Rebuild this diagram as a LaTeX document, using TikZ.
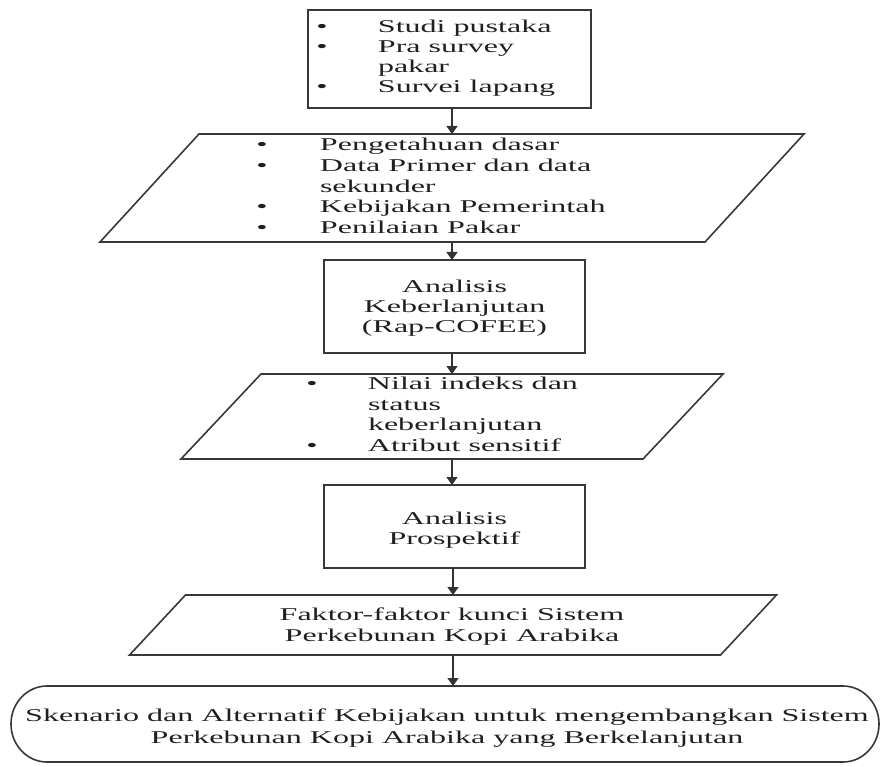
\documentclass[tikz,border=0pt]{standalone}
\usepackage{fontspec}
\setmainfont{Liberation Serif}[FakeStretch=1.78]
\usetikzlibrary{arrows.meta,calc}
\begin{document}
\begin{tikzpicture}[x={(1pt,0)},y={(0,-1pt)},
  outline/.style={draw=black!78,line width=1.6pt},
  arr/.style={draw=black!80,line width=1.6pt,-{Triangle[width=11pt,length=8pt]}},
  frame/.style={draw=none,rectangle,inner sep=0pt,outer sep=0pt},
  boxnode/.style={outline,rectangle,inner sep=0pt,outer sep=0pt,align=center,
    text=black!88,font=\fontsize{18}{20}\selectfont},
  txt/.style={inner sep=0pt,outer sep=0pt,text=black!88,
    font=\fontsize{18}{20}\selectfont,align=left},
  widetxt/.style={txt,font=\fontsize{18}{20.6}\selectfont},
]
\useasboundingbox (0,0) rectangle (883,767);

% data sources
\node[boxnode,minimum width=283pt,minimum height=98pt] (b1) at (449.5,59) {};
\node[txt,anchor=west] (b1t) at (316.4,59) {\begin{tabular}{@{}p{61.6pt}@{}l@{}}
  \textbullet & Studi pustaka\\
  \textbullet & Pra survey\\
              & pakar\\
  \textbullet & Survei lapang
\end{tabular}};

% inputs
\node[frame,minimum width=605pt,minimum height=108pt] (s2) at (452,188) {};
\draw[outline] ($(s2.north west)+(49.5,0)$) -- ($(s2.north east)+(49.5,0)$)
  -- ($(s2.south east)-(49.5,0)$) -- ($(s2.south west)-(49.5,0)$) -- cycle;
\node[widetxt,anchor=west] (s2t) at (256.4,188) {\begin{tabular}{@{}p{63.6pt}@{}l@{}}
  \textbullet & Pengetahuan dasar\\
  \textbullet & Data Primer dan data\\
              & sekunder\\
  \textbullet & Kebijakan Pemerintah\\
  \textbullet & Penilaian Pakar
\end{tabular}};

% sustainability analysis
\node[boxnode,minimum width=261pt,minimum height=93pt] (b3) at (454.5,306.5) {};
\node[txt,align=center] (b3t) at (454.5,308)
  {Analisis\\Keberlanjutan\\(Rap-COFEE)};

% index results
\node[frame,minimum width=462pt,minimum height=85pt] (s4) at (452,416.5) {};
\draw[outline] ($(s4.north west)+(40,0)$) -- ($(s4.north east)+(40,0)$)
  -- ($(s4.south east)-(40,0)$) -- ($(s4.south west)-(40,0)$) -- cycle;
\node[widetxt,anchor=west] (s4t) at (306.4,416.5) {\begin{tabular}{@{}p{61.6pt}@{}l@{}}
  \textbullet & Nilai indeks dan\\
              & status\\
              & keberlanjutan\\
  \textbullet & Atribut sensitif
\end{tabular}};

% prospective analysis
\node[boxnode,minimum width=261pt,minimum height=83pt] (b5) at (454.5,526.5) {};
\node[txt,align=center] (b5t) at (454.5,530.5) {Analisis\\Prospektif};

% key factors
\node[frame,minimum width=591pt,minimum height=60pt] (s6) at (453,625) {};
\draw[outline] ($(s6.north west)+(28,0)$) -- ($(s6.north east)+(28,0)$)
  -- ($(s6.south east)-(28,0)$) -- ($(s6.south west)-(28,0)$) -- cycle;
\node[txt,align=center,font=\fontsize{18}{21}\selectfont] (s6t) at (452,627)
  {Faktor-faktor kunci Sistem\\Perkebunan Kopi Arabika};

% scenarios (terminator)
\node[frame,minimum width=796pt,minimum height=76pt] (t7) at (445,724) {};
\draw[outline] (t7.north west) -- (t7.north east)
  arc[start angle=-90,end angle=90,x radius=36,y radius=38]
  -- (t7.south west)
  arc[start angle=90,end angle=270,x radius=36,y radius=38] -- cycle;
\node[txt,align=center,font=\fontsize{18}{22.5}\selectfont] (t7t) at (447,728)
  {Skenario dan Alternatif Kebijakan untuk mengembangkan Sistem\\
   Perkebunan Kopi Arabika yang Berkelanjutan};

% flow
\draw[arr] (b1.south -| s2.north) -- (s2.north);
\draw[arr] (s2.south) -- (s2.south |- b3.north);
\draw[arr] (b3.south -| s4.north) -- (s4.north);
\draw[arr] (s4.south) -- (s4.south |- b5.north);
\draw[arr] (b5.south -| s6.north) -- (s6.north);
\draw[arr] (s6.south) -- (s6.south |- t7.north);
\end{tikzpicture}
\end{document}
